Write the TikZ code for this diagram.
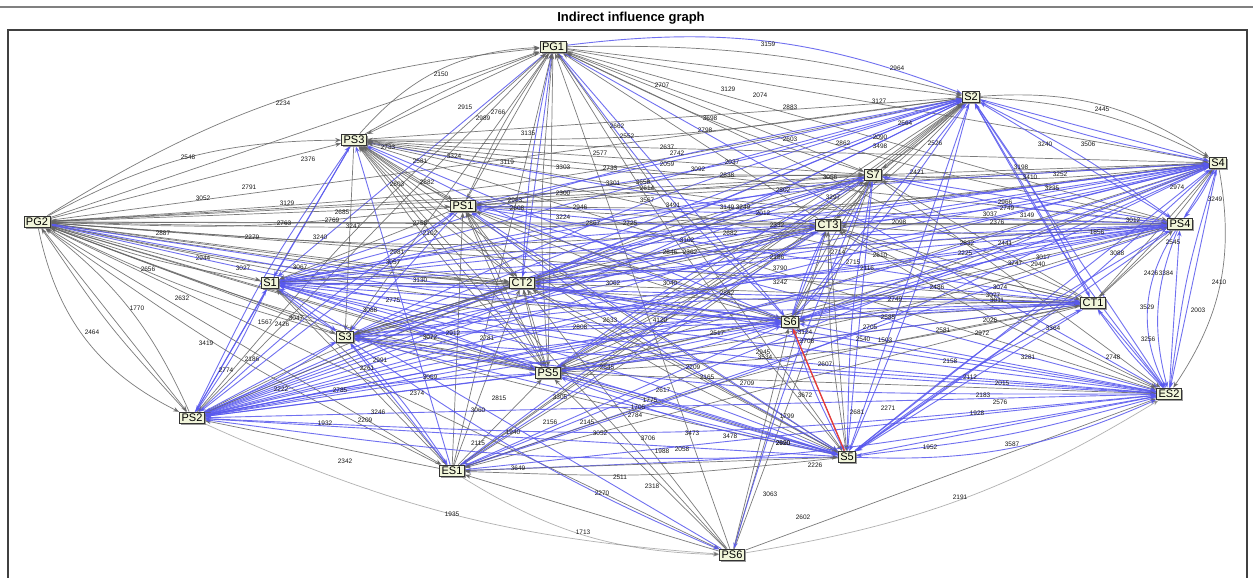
\documentclass[tikz,border=0pt]{standalone}
\usepackage{fontspec}
\setmainfont{Liberation Sans}
\usetikzlibrary{arrows.meta,shadows,calc}
\pgfdeclarelayer{bg}
\pgfdeclarelayer{edges}
\pgfdeclarelayer{labels}
\pgfsetlayers{bg,edges,labels,main}
\definecolor{eblue}{RGB}{88,88,238}
\definecolor{egray}{RGB}{100,100,100}
\definecolor{nfill}{RGB}{241,245,218}
\definecolor{ered}{RGB}{235,60,50}
\begin{document}
\begin{tikzpicture}[x=1pt,y=-1pt,
  nd/.style={draw=black!80, line width=0.9pt, fill=nfill, inner xsep=2pt, inner ysep=2pt,
    font=\fontsize{11}{12}\selectfont,
    drop shadow={shadow xshift=1.6pt, shadow yshift=-1.6pt, fill=black!55, opacity=0.7}},
  edg/.style={opacity=0.85, -{Stealth[length=6pt,width=4.5pt]}},
  ge/.style={edg, draw=egray, line width=0.7pt},
  be/.style={edg, draw=eblue, line width=0.9pt},
  lbl/.style={font=\fontsize{6.5}{7}\selectfont, text=black!90, inner sep=0pt}]
\useasboundingbox (0,0) rectangle (1253,578);
\begin{pgfonlayer}{bg}
\fill[white] (0,0) rectangle (1253,578);
\end{pgfonlayer}
% header
\draw[gray, line width=2pt] (0,7) -- (1253,7);
\node[font=\bfseries\fontsize{13}{14}\selectfont] (title) at (631,18) {Indirect influence graph};
\draw[black!75, line width=1.2pt] (8,578) -- (8,30) -- (1247,30) -- (1247,578);
% nodes
\node[nd] (PG1) at (553,47) {PG1};
\node[nd] (S2) at (971,97) {S2};
\node[nd] (PS3) at (354,140) {PS3};
\node[nd] (S4) at (1218,163) {S4};
\node[nd] (S7) at (873,175) {S7};
\node[nd] (PG2) at (37,222) {PG2};
\node[nd] (PS1) at (463,206) {PS1};
\node[nd] (CT3) at (828,225) {CT3};
\node[nd] (PS4) at (1180,224) {PS4};
\node[nd] (S1) at (270,283) {S1};
\node[nd] (CT2) at (522,283) {CT2};
\node[nd] (CT1) at (1093,303) {CT1};
\node[nd] (S6) at (790,322) {S6};
\node[nd] (S3) at (345,337) {S3};
\node[nd] (PS5) at (548,373) {PS5};
\node[nd] (ES2) at (1169,394) {ES2};
\node[nd] (PS2) at (192,418) {PS2};
\node[nd] (ES1) at (452,471) {ES1};
\node[nd] (S5) at (847,457) {S5};
\node[nd] (PS6) at (732,555) {PS6};
\def\nlist{PG1/1,S2/2,PS3/1,S4/2,S7/1,PG2/0,PS1/1,CT3/1,PS4/2,S1/2,CT2/1,CT1/1,S6/2,S3/2,PS5/1,ES2/2,PS2/2,ES1/1,S5/2,PS6/0}
\begin{pgfonlayer}{edges}
\foreach \a/\fa [count=\i] in \nlist {%
  \foreach \b/\fb [count=\j] in \nlist {%
    \ifnum\i<\j\relax
      \pgfmathtruncatemacro\cc{mod(\i*7+\j*3,5)}%
      \pgfmathtruncatemacro\thrr{(\fa+\fb)*(\fa+\fb)/3}%
      \def\keep{1}%
      \ifnum\j=20\relax \ifnum\cc>2\relax \def\keep{0}\fi\fi
      \ifnum\keep=1\relax
      \ifnum\fa<\fb\relax \edef\src{\a}\edef\tgt{\b}%
      \else\ifnum\fa>\fb\relax \edef\src{\b}\edef\tgt{\a}%
      \else\ifodd\numexpr\i+\j\relax \edef\src{\b}\edef\tgt{\a}\else\edef\src{\a}\edef\tgt{\b}\fi\fi\fi
      \ifnum\cc<\thrr\relax
        \draw[be] (\src) -- (\tgt);
      \else
        \draw[ge] (\src) -- (\tgt);
      \fi
      \pgfmathtruncatemacro\rr{mod(\i*\j+\i,2)}%
      \ifnum\rr=0\relax \ifnum\j<20\relax
        \ifnum\cc<\thrr\relax \draw[be] (\tgt) .. controls ($(\tgt)!0.5!4:(\src)$) .. (\src);
        \else \draw[ge] (\tgt) .. controls ($(\tgt)!0.5!4:(\src)$) .. (\src);\fi
      \fi\fi
      \fi
    \fi
  }%
}
% outer arcs
\draw[be] (PG1) to[bend left=14] (S2);
\draw[ge] (PG1) to[bend left=8] (S2);
\draw[ge] (S2) to[bend left=19] (S4);
\draw[ge] (S2) to[bend left=12] (S4);
\draw[ge] (PG2) to[bend left=13] (PG1);
\draw[ge] (PG2) to[bend left=14] (PS3);
\draw[ge] (PS3) to[bend left=23] (PG1);
\draw[ge] (PG2) to[bend right=26] (PS2);
\draw[ge] (PS2) to[bend right=14] (PG2);
\draw[ge, opacity=0.5] (PS2) to[bend right=10] (PS6);
\draw[ge, opacity=0.5] (ES1) to[bend right=15] (PS6);
\draw[be] (S5) to[bend right=13] (ES2);
\draw[ge, opacity=0.5] (PS6) to[bend right=11] (ES2);
\draw[ge] (S4) to[bend left=22] (ES2);
\draw[be] (PS4) to[bend right=30] (ES2);
\draw[be] (PS4) to[bend right=18] (ES2);
\draw[be] (PG2) .. controls ($(PG2)!0.5!-6:(CT1)$) .. (CT1);
\draw[be] (S3) to[bend right=6] (PS6);
\draw[be] (S7) to[bend right=4] (PS6);
\draw[ered, line width=1.3pt, -{Stealth[length=6pt,width=4.5pt]}] (S5) -- (S6);
\end{pgfonlayer}
\begin{pgfonlayer}{labels}
\foreach \t/\x/\y [count=\k] in {
2150/441/74,2234/283/103,2548/188/157,2376/308/159,2791/249/187,3052/203/198,3129/287/203,
2763/284/223,2769/332/220,2685/342/212,3247/353/226,2279/252/237,3240/320/237,2887/163/233,
2944/203/258,2656/148/269,3027/243/268,2632/182/298,1770/137/308,2464/92/332,3419/206/343,
1567/265/322,2426/282/324,3047/296/318,2186/252/359,2774/226/370,2222/281/389,2785/340/390,
3088/370/310,2261/367/368,2991/380/360,1932/325/423,2209/365/420,3246/378/412,2915/465/107,
2989/483/118,2766/498/112,3135/528/133,2733/388/147,3324/454/156,2581/420/161,3119/507/162,
2803/397/184,2882/427/182,2963/515/200,2608/517/208,2758/420/223,2102/430/233,3067/300/267,
2981/397/252,3057/393/262,3072/430/337,2912/453/333,2775/393/300,3130/420/280,2781/487/338,
3059/430/377,2374/417/393,3060/478/410,2815/499/398,3159/768/44,2707/662/85,3129/728/89,
2074/760/95,2883/790/107,3698/710/118,2662/617/126,2552/627/136,2798/705/130,2603/790/139,
2577/600/153,2637/667/147,2742/677/153,3303/563/167,2733/610/168,2059/667/164,3092/698/169,
2037/732/162,2838/727/175,3301/613/183,3658/643/182,2862/843/143,2964/897/68,3127/879/101,
2445/1102/109,3240/1045/144,3506/1088/144,2564/905/123,2090/880/137,3498/880/146,2526/935/143,
2421/917/172,3198/1021/167,3410/1030/177,3252/1060/174,3235/1052/188,2974/1177/187,3249/1215/199,
3012/1133/220,2545/1173/242,1856/1097/232,3088/1117/253,2426/1151/273,3384/1166/273,2410/1219/282,
3529/1147/307,2003/1198/310,2098/899/222,2966/1005/202,2749/1007/208,3037/990/214,2376/997/222,
3149/1027/215,2441/1005/243,2832/967/243,2225/965/253,3747/1015/263,3017/1043/257,2940/1038/264,
3256/1148/339,2748/1113/357,3364/1053/328,3281/1028/357,2749/895/299,2581/943/330,2972/982/333,
2026/990/320,2585/888/317,3124/805/332,2708/807/341,2705/870/327,1503/885/340,2540/863/339,
2112/970/377,2015/1002/383,2183/983/395,2576/1000/402,1928/977/413,2271/888/408,2681/857/412,
2607/825/364,2158/950/361,3672/805/395,1799/787/416,2950/783/443,3534/765/357,3587/1012/444,
1952/930/447,2226/815/465,2156/550/422,2145/587/422,1940/513/432,3052/600/433,3706/648/438,
2115/478/443,1988/662/451,2058/682/449,3473/692/433,3478/730/436,2620/783/443,3649/518/468,
2511/620/477,2318/652/486,2270/602/493,3063/770/494,2602/803/517,1935/452/514,1713/583/532,
2784/635/415,1705/638/407,2191/960/497,2342/345/461,
2300/563/193,2614/647/188,3491/673/205,3149/727/207,3249/743/207,2725/630/223,2867/593/223,
2012/763/213,2332/777/225,2682/730/233,3102/687/240,3297/833/197,3056/830/177,2802/783/190,
3224/563/217,2946/580/207,3567/647/200,2186/777/257,3790/780/268,2362/690/252,2846/670/252,
3062/613/283,3040/670/283,2862/727/293,3242/780/282,2633/610/320,4120/660/320,2808/580/327,
2517/717/333,2945/763/352,2545/607/367,2209/693/367,2617/663/390,2709/747/383,1775/650/400,
2165/707/377,3305/560/397,2714/838/252,2610/880/255,2715/853/262,2116/867/268,2486/937/287,
3074/1000/287,3077/993/295,3011/997/300}
  \node[lbl] (l\k) at (\x,\y) {\t};
\end{pgfonlayer}
\end{tikzpicture}
\end{document}
